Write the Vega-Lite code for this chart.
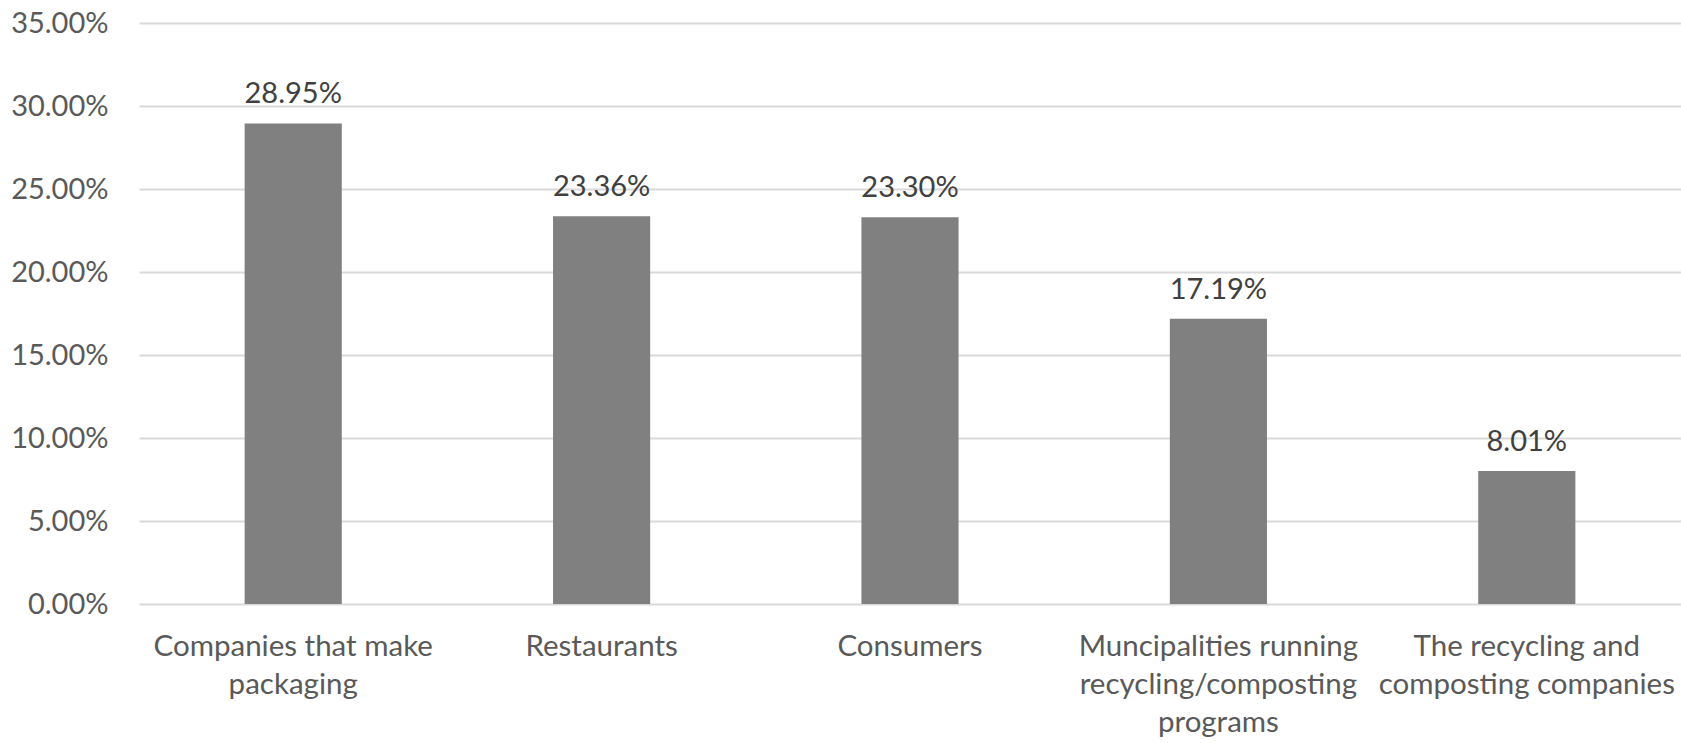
{
  "$schema": "https://vega.github.io/schema/vega-lite/v6.json",
  "width": 1542,
  "height": 581,
  "autosize": {"type": "none"},
  "padding": {"left": 139, "top": 23, "right": 0, "bottom": 139},
  "background": "white",
  "config": {
    "view": {"stroke": null},
    "font": "Lato"
  },
  "data": {
    "values": [
      {"category": "Companies that make|packaging", "share": 0.2895},
      {"category": "Restaurants", "share": 0.2336},
      {"category": "Consumers", "share": 0.2330},
      {"category": "Muncipalities running|recycling/composting|programs", "share": 0.1719},
      {"category": "The recycling and|composting companies", "share": 0.0801}
    ]
  },
  "encoding": {
    "x": {
      "field": "category",
      "type": "nominal",
      "sort": null,
      "scale": {"paddingInner": 0.685, "paddingOuter": 0.3425},
      "axis": {
        "title": null,
        "labelAngle": 0,
        "labelExpr": "split(datum.label, '|')",
        "labelFont": "Lato",
        "labelFontSize": 29.5,
        "labelColor": "#595959",
        "labelLineHeight": 38,
        "labelPadding": 28,
        "labelBaseline": "top",
        "labelLimit": 0,
        "domain": false,
        "ticks": false,
        "grid": false
      }
    },
    "y": {
      "field": "share",
      "type": "quantitative",
      "scale": {"domain": [0, 0.35], "nice": false},
      "axis": {
        "title": null,
        "values": [0, 0.05, 0.1, 0.15, 0.2, 0.25, 0.3, 0.35],
        "format": ".2%",
        "labelFont": "Lato",
        "labelFontSize": 29,
        "labelColor": "#595959",
        "labelPadding": 31,
        "domain": false,
        "ticks": false,
        "grid": true,
        "gridColor": "#d9d9d9",
        "gridWidth": 2
      }
    }
  },
  "layer": [
    {
      "mark": {"type": "bar", "color": "#808080"}
    },
    {
      "mark": {"type": "text", "baseline": "bottom", "dy": -14, "fontSize": 29, "font": "Lato", "color": "#404040"},
      "encoding": {
        "text": {"field": "share", "type": "quantitative", "format": ".2%"}
      }
    }
  ]
}
